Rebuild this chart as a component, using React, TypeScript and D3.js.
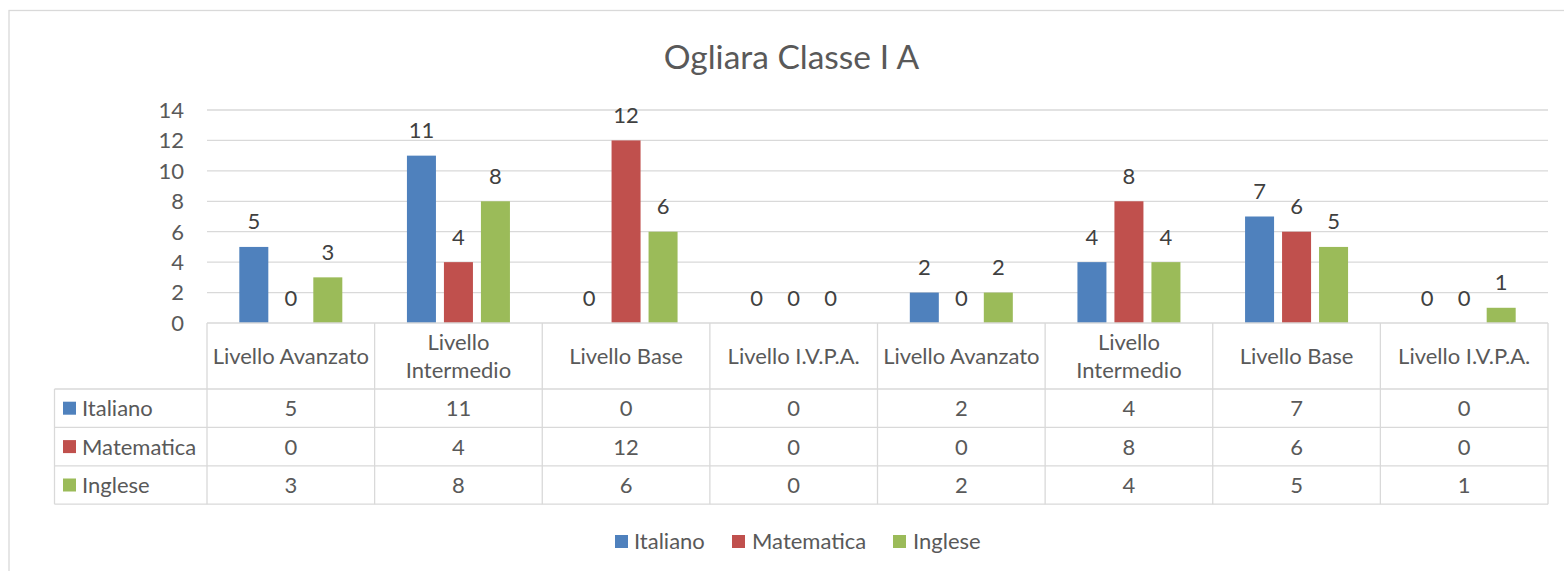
import React from "react";
import * as d3 from "d3";

const categories = [
  "Livello Avanzato",
  "Livello Intermedio",
  "Livello Base",
  "Livello I.V.P.A.",
  "Livello Avanzato",
  "Livello Intermedio",
  "Livello Base",
  "Livello I.V.P.A.",
];
const seriesNames = ["Italiano", "Matematica", "Inglese"];
const italiano = [5, 11, 0, 0, 2, 4, 7, 0];
const matematica = [0, 4, 12, 0, 0, 8, 6, 0];
const inglese = [3, 8, 6, 0, 2, 4, 5, 1];
const yTicks = [0, 2, 4, 6, 8, 10, 12, 14];
const colors = ["#4F81BD", "#C0504D", "#9BBB59"];
const title = "Ogliara Classe I A";

const seriesValues = [italiano, matematica, inglese];

const W = 1564;
const H = 571;
const FONT = "Lato, 'Open Sans', sans-serif";
const TXT = "#595959";
const GRID = "#D9D9D9";
const FS = 22;

export default function App() {
  const plotL = 207;
  const plotR = 1548;
  const yTop = 110;
  const yBase = 323;
  const tableL = 54.5;
  const headerBottom = 389;
  const rowH = 38.4;

  const y = d3.scaleLinear().domain([0, 14]).range([yBase, yTop]);
  const x = d3
    .scaleBand<number>()
    .domain(categories.map((_, i) => i))
    .range([plotL, plotR]);
  const groupW = 103;
  const inner = d3
    .scaleBand<number>()
    .domain(seriesNames.map((_, i) => i))
    .range([-groupW / 2, groupW / 2])
    .paddingInner(0.216)
    .paddingOuter(0);

  const wrap = (s: string) => (s.length > 17 ? s.split(" ") : [s]);

  const rowTop = (r: number) => headerBottom + r * rowH;
  const tableBottom = rowTop(3);

  const legendItems = [
    { sx: 615, tx: 634 },
    { sx: 732, tx: 752 },
    { sx: 893, tx: 913 },
  ];

  return (
    <svg
      width={W}
      height={H}
      style={{ position: "absolute", left: 0, top: 0, background: "#fff" }}
      fontFamily={FONT}
    >
      <rect x={9} y={10.5} width={W + 20} height={H + 20} fill="#fff" stroke={GRID} strokeWidth={1.3} />
      <text x={791.5} y={69} textAnchor="middle" fontSize={33.5} fill={TXT}>
        {title}
      </text>

      {yTicks.map((t) => (
        <g key={t}>
          {t > 0 && (
            <line x1={plotL} x2={plotR} y1={y(t)} y2={y(t)} stroke={GRID} strokeWidth={1.3} />
          )}
          <text x={184} y={y(t)} dy="0.36em" textAnchor="end" fontSize={FS} fill={TXT}>
            {t}
          </text>
        </g>
      ))}

      {seriesValues.map((vals, s) =>
        vals.map((v, i) => {
          const cx = (x(i) as number) + x.bandwidth() / 2;
          const bx = cx + (inner(s) as number);
          return (
            <g key={`${s}-${i}`}>
              {v > 0 && (
                <rect x={bx} y={y(v)} width={inner.bandwidth()} height={yBase - y(v)} fill={colors[s]} />
              )}
              <text
                x={bx + inner.bandwidth() / 2}
                y={y(v) - 17.5}
                textAnchor="middle"
                fontSize={FS}
                fill={"#404040"}
              >
                {v}
              </text>
            </g>
          );
        })
      )}

      <g stroke={GRID} strokeWidth={1.3} fill="none">
        <line x1={plotL} x2={plotR} y1={yBase} y2={yBase} />
        {[0, 1, 2, 3].map((r) => (
          <line key={r} x1={tableL} x2={plotR} y1={rowTop(r)} y2={rowTop(r)} />
        ))}
        <line x1={tableL} x2={tableL} y1={headerBottom} y2={tableBottom} />
        {categories.map((_, i) => (
          <line key={i} x1={x(i) as number} x2={x(i) as number} y1={yBase} y2={tableBottom} />
        ))}
        <line x1={plotR} x2={plotR} y1={yBase} y2={tableBottom} />
      </g>

      {categories.map((c, i) => {
        const lines = wrap(c);
        const cx = (x(i) as number) + x.bandwidth() / 2;
        const cy = (yBase + headerBottom) / 2;
        return (
          <text key={i} x={cx} textAnchor="middle" fontSize={FS} fill={TXT}>
            {lines.map((ln, k) => (
              <tspan key={k} x={cx} y={cy + (k - (lines.length - 1) / 2) * 28.5} dy="0.36em">
                {ln}
              </tspan>
            ))}
          </text>
        );
      })}

      {seriesNames.map((name, s) => {
        const cy = rowTop(s) + rowH / 2;
        return (
          <g key={name}>
            <rect x={63} y={cy - 6.5} width={13} height={13} fill={colors[s]} />
            <text x={82} y={cy} dy="0.36em" fontSize={FS} fill={TXT}>
              {name}
            </text>
            {seriesValues[s].map((v, i) => (
              <text
                key={i}
                x={(x(i) as number) + x.bandwidth() / 2}
                y={cy}
                dy="0.36em"
                textAnchor="middle"
                fontSize={FS}
                fill={TXT}
              >
                {v}
              </text>
            ))}
          </g>
        );
      })}

      {seriesNames.map((name, s) => (
        <g key={name}>
          <rect x={legendItems[s].sx} y={535} width={13} height={13} fill={colors[s]} />
          <text x={legendItems[s].tx} y={541.5} dy="0.36em" fontSize={FS} fill={TXT}>
            {name}
          </text>
        </g>
      ))}
    </svg>
  );
}
